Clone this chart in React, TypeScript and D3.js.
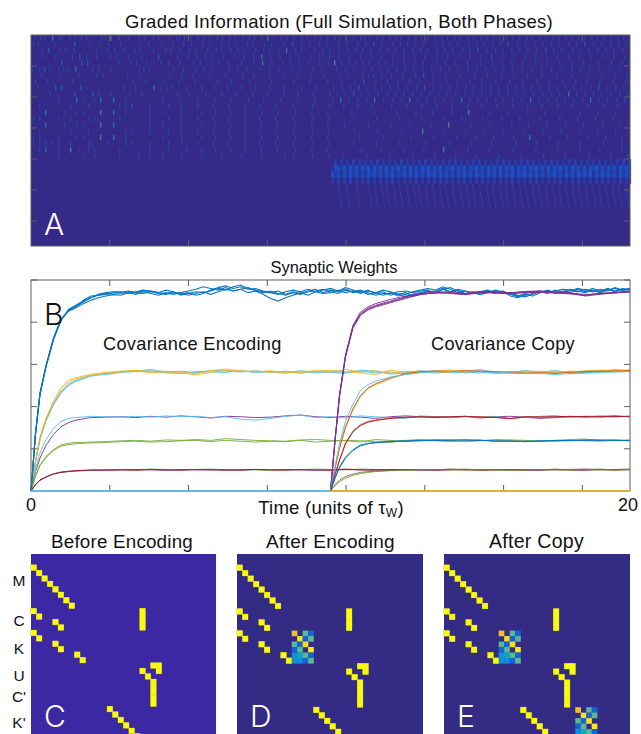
import React from "react";
import * as d3 from "d3";

// ---------- Panel A: graded information. Each entry is column.level (no decimal = faint tick)
const heatRows: number[][] = [
  [3,9,13,21.3,28,30,38,43,50,55,70,74,79.4,87.2,97,107,113,122,127,138,145,148,153,159,166,172,178,186,191,198,203,211,218,223,230,237,242,249,255,262,270,275,283,289,296,303,309,315,322,329,333,338,345,351,358,364,369,377,384,390,396,403,410,416,423,429,436,442,449,455,462,468,475,481,488,495,501,508,514,521,527,534,540,547,553,560,566,573,579,586,592],
  [2,7,24,43.2,58,68,77,89,108,117,130,141,152,160,171,178,190,197,205,216,221,233,240,252,261.2,270,278,288,295,307,315,326,334,342.2,350,361,369,376,384,392,404,411,418,426,437,445,452,461,469,476.2,486,494,503,511,520,528,537,545,553.2,562,570,579,587,595],
  [10,17.2,28,34,42,65,76,83,92,103,108,122,134,139,148,158,164,176,185,190,199,206,213,224,232,238,247,255.3,264,270,283,291,298,308,316,324,331,339,348,356,364,372,381,389,396,406,413,421,431,438,446.2,455,464,471,480,488,496,505,514.2,522,530,541,549,557,566,574,582,591],
  [11,24,41,48.2,55,65,79,85,97,110,127.2,146,156,165,174,181,191,203,212,222,230.3,239,248,258,267,279,288,298,307,318,329,340,350,361,372,383,393,405,416,427,438,449,460.2,471,482,493,504,515,526,537,548,559,571,582,593],
  [30.2,50.2,56.2,87,99,105,115,122,129,137,148,162,169,180,187,196,210,222,231.3,240,251,259,268,277,288,297,303.4,310,317,324,331,337,347,354,361,372,384,391,405,414,423,436,449,461,470,480,491,504,516,528,540,552,566,580,590],
  [1,8,13.2,18,27,32,36,44.3,61,67,79,108,112,118,142,152,164,172,181,198,206,215,228,238,247,260,269,281,290,305,314,322,332,340,348,356,365,374,382,391,400,409,417,426,436,445,454,463,472,481,490,500,510,520,530,540,549,558,567,578,588],
  [10,28,47,65,71,96,108,138,150,161,178,194,211,222,238,252,266,279,292,308,316,331,337,342,350,360,371,384,392.2,401,414,428,443,456,470,482,496,510,525,540,556,570,584,595],
  [4,16,41,102,114,132,147,163,186,200,218,240,262,278,296,310,323,332.2,344,356,366,378,388,402,415,425,438,450,464,478,491,505,518,531,544,555,568,582,594],
  [6,24.2,30.2,49.2,55,92,104,122.3,129,135,141,155,170,184,196,210,224,238,252,270,284,302,311,319,327.2,335,343,350,358,366,376,385,393.2,401,410,418,426,434,442,450,459,467,476,484,492,500,508,517,526,534,542,550,559,567.2,575,584,592],
  [18,43.2,61.2,67,79,98,110,146,158,174,190,204,221,236,252,266,282,298,306,314,322.2,330,338,346,356,364,372,381,390,398,407,415,424,433,441,450,459,467,476,485,493,502,511,520,528,537.3,545,553,562,570,579,588,596],
  [27,45.3,52,63,69.3,82.3,94,131,148,166,183,199,217,232,249,266,283,301,309.3,317,326,335,343.3,352,361,370,378.3,386,395,403,412,421,430.3,438,446,455,464,472,481,490,499.3,507,516,525,533,542,551,559.3,567,576,585,593],
  [8,39,57,88,94,100.2,118,137,149,166,182,197,213,228,244,262,281,298,312,326,340,360,375,390,405,420,436,450,465,481,496,510,526,540,556,572,586],
  [14.3,33,45,52,69.4,82.3,94,118,131,150,170,184,199,214,230,246,264,280,296,320,342,365,384,401,420,437.4,458,476,496,513,530,548,566,584],
  [2,8,27,39,57,63,88,118,137,149,166,182,197,213,228,244,262,281,297,322,345,368,390,412,430,451,470,488,509,528,546,564,582],
  [14.3,33,45,52,69.4,82.3,118,131,150,170,184,199,214,230,246,264,280,296,313,337,359,378,399,417.4,439,458,480,497,515,534,552,571,588],
  [8,39,57,94,100,118,137,149,166,182,197,213,228,244,262,281,297,323,346,370,391.4,412,434,452,471,492,511,529,548,566,584],
  [2,8,27,45,52,69.4,82.3,94,131,150,170,184,199,214,230,246,264,280,296,328,352,379,402,425,444,462,482,498.3,518,536,556,574,590],
  [2,8,14,20,27,39,57,60,76,94,100,118,137,150,166,182,197,213,228,244,262,281,297,322,345,368,394,418,440,460,484,505,527,548,572,590],
  [8,14.3,27,39.4,48,57,63,88,118,137,155,170,184,199,214,230,246,264,280,295,330,350,372,392,412.4,436,458,482,504,526,548,568,590],
  [27,52,63,88,107,118,131,150,170,190,210,230,253,262,281,297,312,336,358,381,403,424,445,467,490,512,534,558,579,596],
];
const lateTickRows: number[][] = [
  [307,315,325,337,343,350,355,362,368,375,382,387,394,401,408,414,421,428,435,441,448,455,461,468,474,481,488,494,501,507,514,521,527,534,541,547,554,561,567,574,581,587,594],
  [308,316,326,338,344,351,356,363,369,376,383,388,395,402,409,415,422,429,436,442,449,456,462,469,475,482,489,495,502,508,515,522,528,535,542,548,555,562,568,575,582,588,595],
  [309,317,327,339,345,352,357,364,370,377,384,389,396,403,410,416,423,430,437,443,450,457,463,470,476,483,490,496,503,509,516,523,529,536,543,549,556,563,569,576,583,589,596],
  [310,318,328,340,346,353,358,365,371,378,385,390,397,404,411,417,424,431,438,444,451,458,464,471,477,484,491,497,504,510,517,524,530,537,544,550,557,564,570,577,584,590,597],
];
const bandRows: string[] = [
  "0404030504030405040304050403040504030304050403040504030405040304050403040504030405040403050403040504",
  "2763828372748283728274837283728482738264827382748372837282748273827483728274837283728274837283728473",
  "7362738373628473827382647382837284728373627384728372847382638274837283627483728372847382738473628374",
  "3040405030405030404050304030503040405040304050304050304040305040304050304030503040503040405040305040",
];

// ---------- Panel B: synaptic weights, in hundredths
const blueTimes = [0,0.15,0.3,0.5,0.75,1,1.25,1.5,1.75,2,2.25,2.5,2.75,
  3,3.25,3.5,3.75,4,4.25,4.5,4.75,5,5.25,5.5,5.75,6,6.25,6.5,6.75,7,7.25,7.5,7.75,8,8.25,8.5,8.75,9,9.25,9.5,9.75,
  10,10.25,10.5,10.75,11,11.25,11.5,11.75,12,12.25,12.5,12.75,13,13.25,13.5,13.75,14,14.25,14.5,14.75,15,15.25,15.5,15.75,
  16,16.25,16.5,16.75,17,17.25,17.5,17.75,18,18.25,18.5,18.75,19,19.25,19.5,19.75,20];
const encodingTimes = [0,0.15,0.3,0.5,0.75,1,1.25,1.5,2,2.5,3,3.5,4,4.5,5,5.5,6,6.5,7,7.5,8,8.5,9,9.5,10,10.5,11,11.5,12,12.5,13,13.5,14,14.5,15,15.5,16,16.5,17,17.5,18,18.5,19,19.5,20];
const copyTimes = [10,10.15,10.3,10.5,10.75,11,11.25,11.5,12,12.5,13,13.5,14,14.5,15,15.5,16,16.5,17,17.5,18,18.5,19,19.5,20];

const blueA = [0,135,230,295,360,405,428,437,448,458,464,468,466,
  468,472,470,474, 473,470,468,472, 466,470,464,468, 476,482,486,480, 484,478,480,474, 470,474,466,472, 468,474,478,470,
  476,472,479,470, 474,466,470,464, 470,462,466,472, 476,480,476,484, 478,470,474,468, 472,476,470,474,
  462,458,464,468, 472,468,476,472, 474,480,476,472, 478,474,482,476, 480];
const blueB = [0,137,232,297,362,406,426,434,444,452,458,462,465,
  464,470,466,472, 468,464,470,466, 470,474,478,484, 480,476,482,474, 478,470,474,466, 456,450,458,464, 470,464,472,476,
  480,474,482,476, 470,476,468,472, 464,468,460,466, 470,474,470,478, 482,474,466,470, 466,472,468,474,
  466,460,466,462, 470,476,470,474, 470,478,472,480, 474,478,472,480, 478];
const blueC = [0,134,229,294,358,404,430,440,450,458,466,470,472,
  472,468,472,476, 474,470,476,472, 464,468,472,470, 474,480,476,484, 488,480,476,472, 470,466,472,476, 472,478,472,468,
  470,476,470,474, 468,474,470,476, 472,466,470,462, 468,472,474,480, 472,478,474,470, 466,470,476,472,
  468,462,468,472, 474,470,474,478, 476,472,478,474, 472,480,474,478, 476];
const blueD = [0,136,231,296,361,407,427,438,452,462,464,466,470,
  471,474,470,468, 472,468,466,470, 469,464,468,472, 466,472,478,474, 478,482,474,470, 474,468,464,470, 466,472,474,478,
  472,468,476,472, 476,470,464,468, 468,472,474,470, 474,476,468,478, 472,476,468,472, 470,474,472,468,
  470,464,460,466, 472,474,468,472, 478,474,470,476, 470,476,480,474, 480];
const orangeA = [0,72,128,172,212,244,262,268,277,281, 284,286,283,284,282, 278,285,289,285,282, 285,280,283,285,282, 288,282,285,279,283, 280,284,287,280,283, 282,279,284,282,284, 280,285,284,288,286];
const orangeB = [0,70,124,170,210,238,256,265,274,279, 282,285,280,282,280, 275,281,286,283,284, 281,283,280,284,286, 283,280,276,286,282, 284,279,282,286,283, 278,282,280,284,281, 284,283,286,285,284];
const skyA = [0,68,122,166,204,232,250,260,272,278, 283,284,288,282,284, 280,286,284,282,285, 281,284,279,283,281, 279,286,284,277,280, 285,282,280,284,288, 281,283,282,280,286, 278,281,284,283,286];
const skyB = [0,69,124,168,206,234,252,262,274,276, 281,283,285,280,278, 283,282,281,286,280, 283,279,285,280,283, 281,284,280,282,278, 281,286,283,280,284, 279,280,286,281,278, 283,280,282,284,283];
const purpleA = [0,46,78,108,134,152,162,168,174,175, 176,174,177,175,178, 176,173,177,176,174, 175,178,180,176,174, 177,175,172,176,178, 176,174,175,177,173, 176,177,175,172,174, 176,175,177,178,176];
const skyC = [0,52,90,122,148,164,172,174,177,176, 175,177,175,178,176, 177,174,176,170,168, 172,177,180,174,176, 173,178,176,174,172, 178,176,174,176,175, 177,172,175,177,179, 174,177,178,175,178];
const greenA = [0,36,62,82,98,109,113,115,116,117, 119,120,118,121,120, 122,120,124,122,120, 119,118,121,122,120, 119,116,122,120,117, 120,122,120,117,119, 122,121,120,118,120, 122,123,120,119,121];
const greenB = [0,34,60,79,96,106,110,112,114,115, 117,118,116,117,119, 120,117,120,118,116, 118,117,120,116,118, 120,119,117,115,120, 122,119,117,119,121, 118,120,117,119,118, 120,119,118,120,119];
const greenC = [0,16,26,34,40,44,46,47,49,50, 51,50,52,51,50, 51,52,50,51,50, 49,51,50,52,51, 50,52,51,50,49, 51,50,51,52,50, 51,49,51,50,52, 50,51,52,50,51];
const purpleB = [0,15,25,33,40,45,47,48,49,50, 50,51,50,49,51, 50,50,51,49,51, 50,51,50,49,50, 51,50,51,50,51, 49,50,52,50,51, 50,50,49,51,50, 51,52,50,51,52];
const redA = [0,15,26,33,41,44,46,48,50,49, 50,49,51,50,49, 51,50,49,50,51, 50,49,51,50,49, 52,50,49,51,50, 51,49,50,51,49, 50,51,50,49,51, 50,49,51,50,51];
const plumA = [0,118,225,320,390,420,433,440,450,460, 467,470,469,467,472, 470,468,472,473,471, 470,462,466,470,472];
const plumB = [0,122,228,322,393,424,436,444,454,462, 468,472,472,468,473, 472,470,473,474,472, 468,464,468,471,474];
const plumC = [0,116,222,316,386,416,429,436,446,456, 466,469,470,466,471, 471,469,471,472,470, 469,466,467,470,471];
const plumD = [0,120,226,319,389,418,431,438,448,458, 465,471,468,465,470, 469,467,470,471,469, 467,463,469,469,473];
const copySky = [0,58,112,165,206,238,252,260,270,276, 280,282,283,282,280, 281,280,278,279,276, 278,279,281,282,283];
const copyRed = [0,54,102,152,195,226,244,254,268,278, 283,284,283,285,284, 283,281,279,280,279, 281,283,284,284,285];
const copyOrange = [0,52,100,150,192,224,242,252,266,277, 282,284,285,284,283, 282,280,280,281,280, 282,284,286,285,286];
const copyCrimson = [0,38,72,112,140,155,163,167,172,175, 176,175,176,177,175, 174,172,176,175,176, 177,176,176,177,176];
const copyRust = [0,39,74,114,142,157,165,168,173,174, 175,176,175,176,176, 175,171,175,176,175, 176,177,175,176,177];
const copyBlueA = [0,30,55,78,96,107,112,114,117,118, 119,120,120,121,120, 119,118,117,119,119, 120,120,121,120,120];
const copyBlueB = [0,31,57,80,98,109,113,115,118,119, 120,120,121,121,120, 118,118,118,118,120, 119,121,120,121,119];
const copyGreen = [0,13,22,30,37,41,44,46,48,49, 50,51,50,50,51, 50,49,50,51,50, 50,51,50,50,51];
const copyOlive = [0,15,26,34,40,44,46,47,49,50, 50,50,51,50,50, 51,50,50,50,51, 50,50,51,50,50];

const encodingSeries: [number[], string][] = [
  [skyA,"#4DBEEE"],[skyB,"#4DBEEE"],[orangeA,"#EDB120"],[orangeB,"#EDB120"],
  [purpleA,"#7E2F8E"],[skyC,"#4DBEEE"],
  [greenA,"#77AC30"],[greenB,"#77AC30"],
  [greenC,"#77AC30"],[purpleB,"#7E2F8E"],[redA,"#A2142F"],
];
const blueSeries: number[][] = [blueA, blueB, blueC, blueD];
const copySeries: [number[], string][] = [
  [plumA,"#7E2F8E"],[plumB,"#7E2F8E"],[plumC,"#7E2F8E"],[plumD,"#7E2F8E"],
  [copyOrange,"#EDB120"],[copyRed,"#D95319"],[copySky,"#4DBEEE"],
  [copyRust,"#D95319"],[copyCrimson,"#A2142F"],
  [copyBlueA,"#0072BD"],[copyBlueB,"#0072BD"],
  [copyGreen,"#77AC30"],[copyOlive,"#7a6a50"],
];
const zeroLine = [0, 0];
const zeroEncodingTimes = [0, 10];
const zeroCopyTimes = [10, 20];

// ---------- Panels C, D, E: weight matrices
const weightDiagonals: [number, number][] = [
  [2,0],[3,1],[4,2],[5,3],[6,4],[7,5],[8,6],[9,7],
  [10,0],[11,1],[12,4],[13,5],
  [14,0],[15,1],[16,4],[17,5],[18,8],[19,9],
  [10,20],[11,20],[12,20],[13,20],
  [20,22],[20,23],[21,20],[21,23],[22,21],
  [23,22],[24,22],[25,22],[26,22],[27,22],
  [28,14],[29,15],[30,16],[31,17],[32,18],[33,19],
];
const learnedBlock = [
  [0.85,0,0.5,0.15],
  [0,0.93,0.15,0.5],
  [0.5,0.15,0.93,0],
  [0.15,0.5,0,0.95],
  [0.3,0.38,0.5,0.15],
  [0.3,0.3,0.15,0.5],
];
const rowLabels: [string, number][] = [["M",4.8],["C",12.2],["K",17.4],["U",22.4],["C'",26.2],["K'",31]];

const FONT = "'Liberation Sans', Arial, sans-serif";
const LETTER_FONT = "Inter, 'Liberation Sans', sans-serif";
const W = 641, H = 734;
const A = { l: 31, r: 630, t: 35, b: 246 };
const B = { l: 31, r: 630, t: 280, b: 491 };

const timeTicks = [2.63, 5.26, 7.89, 10.52, 13.15, 15.78, 18.41];
const sideTicks = [1, 2, 3, 4, 5];
const heatSideTicks = [1, 2, 3, 4, 5, 6];

const heatX = d3.scaleLinear().domain([0, 599]).range([A.l, A.r]);
const heatY = d3.scaleBand<number>().domain(d3.range(34)).range([A.t, A.b]);
const heatTickX = d3.scaleLinear().domain([0, 20]).range([A.l, A.r]);
const heatTickY = d3.scaleLinear().domain([0, 6.806]).range([A.t, A.b]);
const weightX = d3.scaleLinear().domain([0, 20]).range([B.l, B.r]);
const weightY = d3.scaleLinear().domain([0, 5]).range([B.b, B.t]);
const tickColors = ["#2c3fa3", "#24408f", "#1f57b8", "#1f76a8", "#427f88"];
const bandColor = d3.scaleLinear<string>().domain([0, 8]).range(["#352a87", "#1454cc"]);
const matrixColor = d3.scaleLinear<string>()
  .domain([0, 0.15, 0.3, 0.38, 0.5, 0.85, 1])
  .range(["#332b84", "#1464d8", "#0f90d8", "#10a8c0", "#5cb890", "#efc42a", "#f9fb0e"]);

function levelOf(v: number) {
  return Math.round((v - Math.floor(v)) * 10);
}

function Frame({ box, xTicks, yTicks, x, y }: any) {
  const c = "#5f5f5f";
  return (
    <g stroke={c} strokeWidth={1} fill="none">
      <rect x={box.l} y={box.t} width={box.r - box.l} height={box.b - box.t} />
      {xTicks.map((t: number) => (
        <g key={t}>
          <line x1={x(t)} x2={x(t)} y1={box.t} y2={box.t + 6} />
          <line x1={x(t)} x2={x(t)} y1={box.b} y2={box.b - 6} />
        </g>
      ))}
      {yTicks.map((t: number) => (
        <g key={t}>
          <line x1={box.l} x2={box.l + 6} y1={y(t)} y2={y(t)} />
          <line x1={box.r} x2={box.r - 6} y1={y(t)} y2={y(t)} />
        </g>
      ))}
    </g>
  );
}

function Matrix({ left, width, background, letter, blocks }: any) {
  const top = 554;
  const size = width / 34;
  const col = d3.scaleBand<number>().domain(d3.range(34)).range([left, left + width]);
  const row = d3.scaleBand<number>().domain(d3.range(34)).range([top, top + size * 34]);
  return (
    <g>
      <rect x={left} y={top} width={width} height={size * 34} fill={background} />
      {weightDiagonals.map(([r, c]) => (
        <rect key={`e${r}-${c}`} x={col(c)} y={row(r)} width={size} height={size} fill="#a8a23c" stroke="#a8a23c" strokeWidth={0.7} />
      ))}
      {weightDiagonals.map(([r, c]) => (
        <rect key={`${r}-${c}`} x={col(c)! - 0.1} y={row(r)! - 0.1} width={size + 0.2} height={size + 0.2} fill="#f9fb0e" />
      ))}
      {blocks.map(([r0, c0]: [number, number]) =>
        learnedBlock.flatMap((vals, i) =>
          vals.map((v, j) =>
            v > 0 ? (
              <rect key={`${r0}-${i}-${j}`} x={col(c0 + j)} y={row(r0 + i)} width={size + 0.2} height={size + 0.2} fill={matrixColor(v)} />
            ) : null
          )
        )
      )}
      <text x={left + 13} y={727} fontSize={30} fontWeight={300} fill="#ffffff" fontFamily={LETTER_FONT}>{letter}</text>
    </g>
  );
}

export default function App() {
  const line = d3.line<[number, number]>().x((d) => weightX(d[0])).y((d) => weightY(d[1] / 100));
  const path = (times: number[], vals: number[]) => line(vals.map((v, i) => [times[i], v]))!;
  return (
    <svg width={W} height={H} viewBox={`0 0 ${W} ${H}`} style={{ position: "absolute", left: 0, top: 0, background: "#fff" }}>
      {/* Panel A */}
      <text x={339} y={28} fontSize={18.5} textAnchor="middle" fontFamily={FONT} fill="#111" letterSpacing={0.3}>Graded Information (Full Simulation, Both Phases)</text>
      <rect x={A.l} y={A.t} width={A.r - A.l} height={A.b - A.t} fill="#352a87" />
      {heatRows.map((cols, r) =>
        cols.map((v) => (
          <rect key={`${r}-${v}`} x={heatX(Math.floor(v))} y={heatY(r)! + 0.5} width={1.4} height={heatY.bandwidth() - 1} fill={tickColors[levelOf(v)]} />
        ))
      )}
      {bandRows.map((s, r) =>
        s.split("").map((d, i) => (
          <rect key={`b${r}-${i}`} x={heatX(300 + i * 3)} y={heatY(20 + r)} width={3.1} height={heatY.bandwidth()} fill={bandColor(+d)} />
        ))
      )}
      {lateTickRows.map((cols, r) =>
        cols.map((v) => (
          <rect key={`l${r}-${v}`} x={heatX(v)} y={heatY(24 + r)} width={1.3} height={heatY.bandwidth()} fill="#2b3da0" />
        ))
      )}
      <Frame box={A} xTicks={timeTicks} yTicks={heatSideTicks} x={heatTickX} y={heatTickY} />
      <text x={44} y={235} fontSize={30} fontWeight={300} fill="#fff" fontFamily={LETTER_FONT}>A</text>

      {/* Panel B */}
      <text x={334} y={273} fontSize={16.5} textAnchor="middle" fontFamily={FONT} fill="#111">Synaptic Weights</text>
      <g fill="none" strokeWidth={0.9}>
        {encodingSeries.map(([vals, c], i) => (
          <path key={i} d={path(encodingTimes, vals)} stroke={c} />
        ))}
        {blueSeries.map((vals, i) => (
          <path key={`blue${i}`} d={path(blueTimes, vals)} stroke="#0a76c0" strokeWidth={1.1} />
        ))}
        {copySeries.map(([vals, c], i) => (
          <path key={`copy${i}`} d={path(copyTimes, vals)} stroke={c} />
        ))}
      </g>
      <Frame box={B} xTicks={timeTicks} yTicks={sideTicks} x={weightX} y={weightY} />
      <g fill="none" strokeWidth={1.4}>
        <path d={path(zeroEncodingTimes, zeroLine)} stroke="#4DBEEE" />
        <path d={path(zeroCopyTimes, zeroLine)} stroke="#EDB120" />
      </g>
      <text x={44} y={325} fontSize={30} fontWeight={300} fill="#111" fontFamily={LETTER_FONT}>B</text>
      <text x={103} y={350} fontSize={18.2} fontFamily={FONT} fill="#111" letterSpacing={0.3}>Covariance Encoding</text>
      <text x={431} y={350} fontSize={18.2} fontFamily={FONT} fill="#111" letterSpacing={0.3}>Covariance Copy</text>
      <text x={31} y={511} fontSize={18} textAnchor="middle" fontFamily={FONT} fill="#111">0</text>
      <text x={628} y={511} fontSize={18} textAnchor="middle" fontFamily={FONT} fill="#111">20</text>
      <text x={331} y={514} fontSize={18.6} textAnchor="middle" fontFamily={FONT} fill="#111" letterSpacing={0.2}>
        Time (units of τ<tspan fontSize={12} dy={3}>W</tspan><tspan dy={-3}>)</tspan>
      </text>

      {/* Panels C, D, E */}
      <text x={122} y={548} fontSize={18.8} textAnchor="middle" fontFamily={FONT} fill="#111" letterSpacing={0.2}>Before Encoding</text>
      <text x={330.5} y={548} fontSize={19} textAnchor="middle" fontFamily={FONT} fill="#111" letterSpacing={0.3}>After Encoding</text>
      <text x={536.5} y={548} fontSize={19.5} textAnchor="middle" fontFamily={FONT} fill="#111" letterSpacing={0.3}>After Copy</text>
      <Matrix left={31} width={185} background="#3d28a3" letter="C" blocks={[]} />
      <Matrix left={237} width={186} background="#332b84" letter="D" blocks={[[14, 10]]} />
      <Matrix left={444} width={186} background="#332b84" letter="E" blocks={[[14, 10], [28, 24]]} />
      {rowLabels.map(([t, r]) => (
        <text key={t} x={19} y={554 + r * 5.42 + 5.5} fontSize={15.5} textAnchor="middle" fontFamily={FONT} fill="#111">{t}</text>
      ))}
    </svg>
  );
}
